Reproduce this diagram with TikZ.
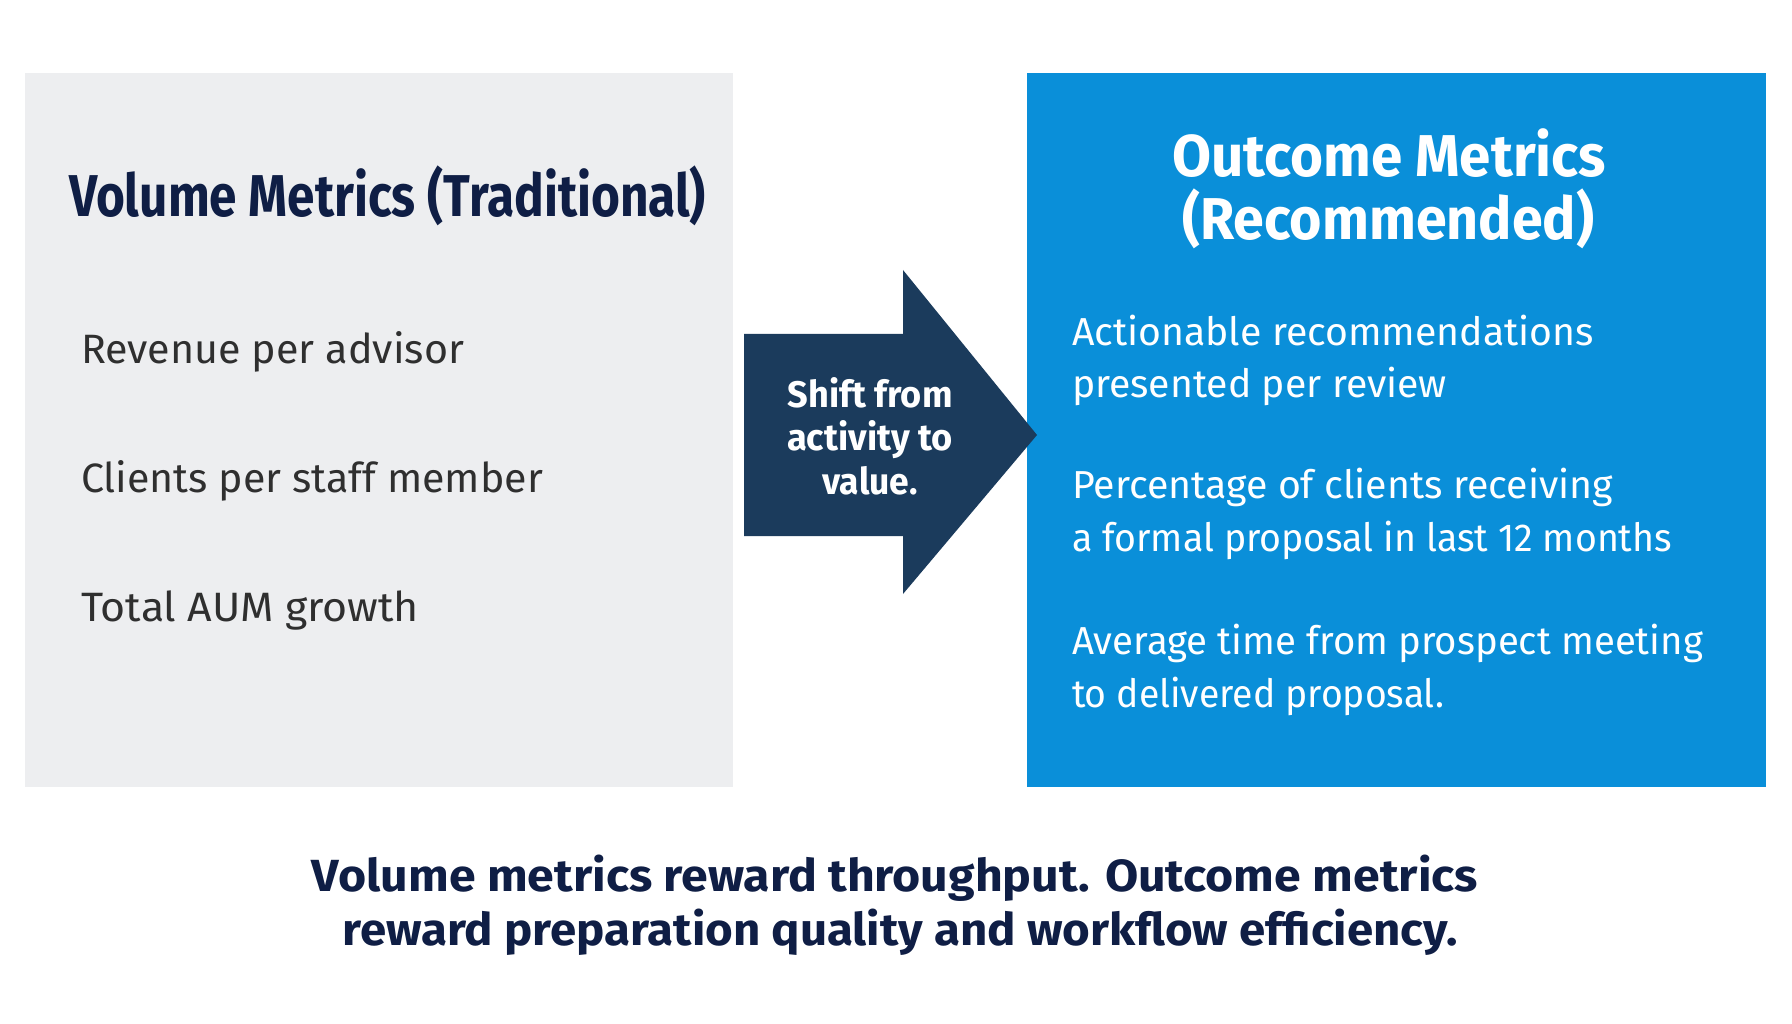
\documentclass[tikz,border=0pt]{standalone}
\usepackage{fontspec}
\setmainfont{Fira Sans}
\usepackage{graphicx}
\definecolor{leftgray}{HTML}{EDEEF0}
\definecolor{rightblue}{HTML}{0A8FD9}
\definecolor{arrownavy}{HTML}{1B3B5C}
\definecolor{titlenavy}{HTML}{0F1E45}
\definecolor{bodygray}{HTML}{2F2F2F}
\newcommand{\fitw}[2]{\resizebox{#1pt}{\height}{#2}}
\begin{document}
\begin{tikzpicture}[x=1pt,y=-1pt,
  panel/.style={draw=none, inner sep=0pt, outer sep=0pt, anchor=north west},
  txt/.style={inner sep=0pt, outer sep=0pt},
  lefttitle/.style={txt, text=titlenavy, font=\fontsize{59}{64}\bfseries\selectfont},
  leftitem/.style={txt, anchor=base west, text=bodygray, font=\fontsize{41}{48}\selectfont},
  righttitle/.style={txt, anchor=base, text=white, font=\fontsize{59}{64}\bfseries\selectfont},
  rightitem/.style={txt, anchor=base west, text=white, font=\fontsize{39}{46}\selectfont},
  arrowtxt/.style={txt, anchor=base, text=white, font=\fontsize{37}{40}\bfseries\selectfont},
  captiontxt/.style={txt, anchor=base, text=titlenavy, font=\fontsize{45}{52}\bfseries\selectfont}]
\useasboundingbox (0,0) rectangle (1792,1024);
\fill[white] (0,0) rectangle (1792,1024);
% panels
\node[panel, fill=leftgray, minimum width=708pt, minimum height=714pt] (leftbox) at (25,73) {};
\node[panel, fill=rightblue, minimum width=739pt, minimum height=714pt] (rightbox) at (1027,73) {};
% arrow shape
\fill[arrownavy] (744,334) -- (903,334) -- (903,270) -- (1037,435) -- (903,594) -- (903,536) -- (744,536) -- cycle;
% left texts
\node[lefttitle, anchor=base west] (ltitle) at (69,217) {\fitw{637}{Volume Metrics (Traditional)}};
\node[leftitem] (l1) at (81,363) {\fitw{383}{Revenue per advisor}};
\node[leftitem] (l2) at (81,492) {\fitw{462}{Clients per staff member}};
\node[leftitem] (l3) at (81,621) {\fitw{338}{Total AUM growth}};
% arrow text
\node[arrowtxt] (a1) at (870,407) {\fitw{165}{Shift from}};
\node[arrowtxt] (a2) at (870,450) {\fitw{166}{activity to}};
\node[arrowtxt] (a3) at (870,494) {\fitw{95}{value.}};
% right texts
\node[righttitle] (rtitle1) at (1389,177) {\fitw{434}{Outcome Metrics}};
\node[righttitle] (rtitle2) at (1388,240) {\fitw{412}{(Recommended)}};
\node[rightitem] (r1a) at (1072,346) {\fitw{522}{Actionable recommendations}};
\node[rightitem] (r1b) at (1072,397) {\fitw{375}{presented per review}};
\node[rightitem] (r2a) at (1072,498) {\fitw{541}{Percentage of clients receiving}};
\node[rightitem] (r2b) at (1072,551) {\fitw{600}{a formal proposal in last 12 months}};
\node[rightitem] (r3a) at (1072,654) {\fitw{631}{Average time from prospect meeting}};
\node[rightitem] (r3b) at (1072,707) {\fitw{372}{to delivered proposal.}};
% caption
\node[captiontxt] (cap1) at (895,891) {\fitw{1166}{Volume metrics reward throughput. Outcome metrics}};
\node[captiontxt] (cap2) at (900,945) {\fitw{1115}{reward preparation quality and workflow efficiency.}};
\end{tikzpicture}
\end{document}
